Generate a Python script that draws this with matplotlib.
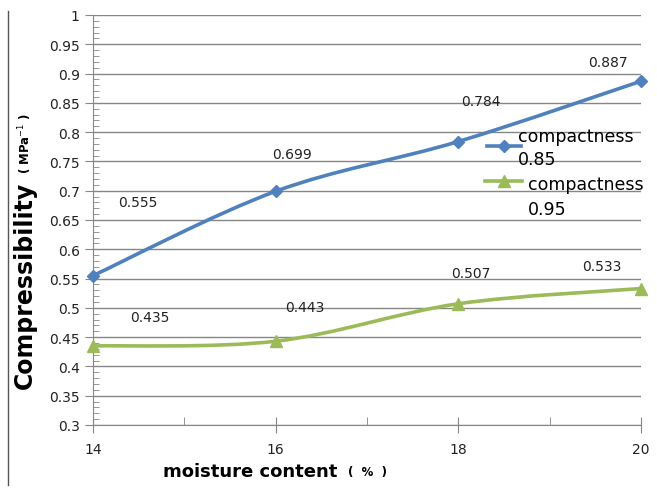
import matplotlib
matplotlib.use("Agg")
import matplotlib.pyplot as plt
from matplotlib.path import Path
from matplotlib.patches import PathPatch
from matplotlib.lines import Line2D
from matplotlib.ticker import MultipleLocator

# data
moisture = [14, 16, 18, 20]
comp_085 = [0.555, 0.699, 0.784, 0.887]
comp_095 = [0.435, 0.443, 0.507, 0.533]
series_names = ["compactness\n0.85", "compactness\n0.95"]
x_ticks = [14, 16, 18, 20]

BLUE = "#4F81BD"
GREEN = "#9BBB59"
GRID = "#868686"

# label offsets (points) relative to each point
off_085 = [(32, 53), (12, 27), (16, 29), (-24, 14)]
off_095 = [(41, 21), (21, 25), (9, 22), (-28, 16)]


def smooth_path(xs, ys):
    # excel-like smoothed line: cubic bezier through the points
    pts = list(zip(xs, ys))
    verts = [pts[0]]
    codes = [Path.MOVETO]
    n = len(pts)
    for i in range(n - 1):
        p0 = pts[i - 1] if i > 0 else pts[i]
        p1 = pts[i]
        p2 = pts[i + 1]
        p3 = pts[i + 2] if i + 2 < n else pts[i + 1]
        c1 = (p1[0] + (p2[0] - p0[0]) / 6, p1[1] + (p2[1] - p0[1]) / 6)
        c2 = (p2[0] - (p3[0] - p1[0]) / 6, p2[1] - (p3[1] - p1[1]) / 6)
        verts += [c1, c2, p2]
        codes += [Path.CURVE4] * 3
    return Path(verts, codes)


W, H = 657, 489
fig = plt.figure(figsize=(W / 100, H / 100), dpi=100)
ax = fig.add_axes([93 / W, 63 / H, 548 / W, 410 / H])

styles = [(BLUE, "D", 6, off_085), (GREEN, "^", 8, off_095)]
for ys, (color, marker, ms, offs) in zip([comp_085, comp_095], styles):
    ax.add_patch(PathPatch(smooth_path(moisture, ys), facecolor="none",
                           edgecolor=color, lw=2.6, zorder=3, clip_on=False))
    ax.plot(moisture, ys, linestyle="none", marker=marker, ms=ms,
            color=color, zorder=4, clip_on=False)
    for x, y, o in zip(moisture, ys, offs):
        ax.annotate(f"{y:g}", (x, y), xytext=o, textcoords="offset points",
                    ha="center", va="center", fontsize=10, color="#222222")

ax.set_xlim(14, 20)
ax.set_ylim(0.3, 1.0)
ax.set_xticks(x_ticks)
ax.xaxis.set_minor_locator(MultipleLocator(1))
ax.yaxis.set_major_locator(MultipleLocator(0.05))
ax.yaxis.set_minor_locator(MultipleLocator(0.01))
ax.yaxis.set_major_formatter(plt.FuncFormatter(lambda v, p: f"{v:g}"))
ax.grid(axis="y", which="major", color=GRID, lw=1)
ax.set_axisbelow(True)

for s in ("top", "right"):
    ax.spines[s].set_visible(False)
for s in ("left", "bottom"):
    ax.spines[s].set_color(GRID)

ax.tick_params(axis="y", which="major", direction="out", length=6,
               color=GRID, labelsize=10, labelcolor="#222222")
ax.tick_params(axis="y", which="minor", direction="in", length=4, color=GRID)
ax.tick_params(axis="x", which="major", direction="inout", length=12,
               color=GRID, labelsize=10, labelcolor="#222222", pad=6)
ax.tick_params(axis="x", which="minor", direction="in", length=6, color=GRID)

# legend, placed by hand like the excel one
leg_rows = [
    # (line x0, x1, y, text x, text y1, text y2) in pixels
    (487, 521, 147, 518, 137, 160),
    (485, 522, 182, 528, 185, 210),
]
for name, (color, marker, ms, _), row in zip(series_names, styles, leg_rows):
    x0, x1, yl, xt, yt1, yt2 = row
    fig.add_artist(Line2D([x0 / W, x1 / W], [1 - yl / H, 1 - yl / H],
                          transform=fig.transFigure, color=color, lw=2.6))
    fig.add_artist(Line2D([(x0 + x1) / 2 / W], [1 - yl / H], marker=marker,
                          ms=ms, color=color, transform=fig.transFigure))
    line1, line2 = name.split("\n")
    fig.text(xt / W, 1 - yt1 / H, line1, ha="left", va="center", fontsize=12.5)
    fig.text(xt / W, 1 - yt2 / H, line2, ha="left", va="center", fontsize=12.5)

# axis titles
fig.text(25 / W, 1 - 285 / H, "Compressibility", rotation=90,
         ha="center", va="center", fontsize=17, fontweight="bold")
fig.text(25 / W, 1 - 144 / H, "( MPa$^{-1}$ )", rotation=90,
         ha="center", va="center", fontsize=8.5, fontweight="bold")
fig.text(250 / W, 1 - 472 / H, "moisture content", ha="center",
         va="center", fontsize=13, fontweight="bold")
fig.text(367 / W, 1 - 473 / H, "(  %  )", ha="center",
         va="center", fontsize=8.5, fontweight="bold")

# left frame edge
fig.add_artist(Line2D([8 / W, 8 / W], [1 - 486 / H, 1 - 12 / H],
                      transform=fig.transFigure, color="#555555", lw=1))

fig.savefig("out.png", dpi=100)
